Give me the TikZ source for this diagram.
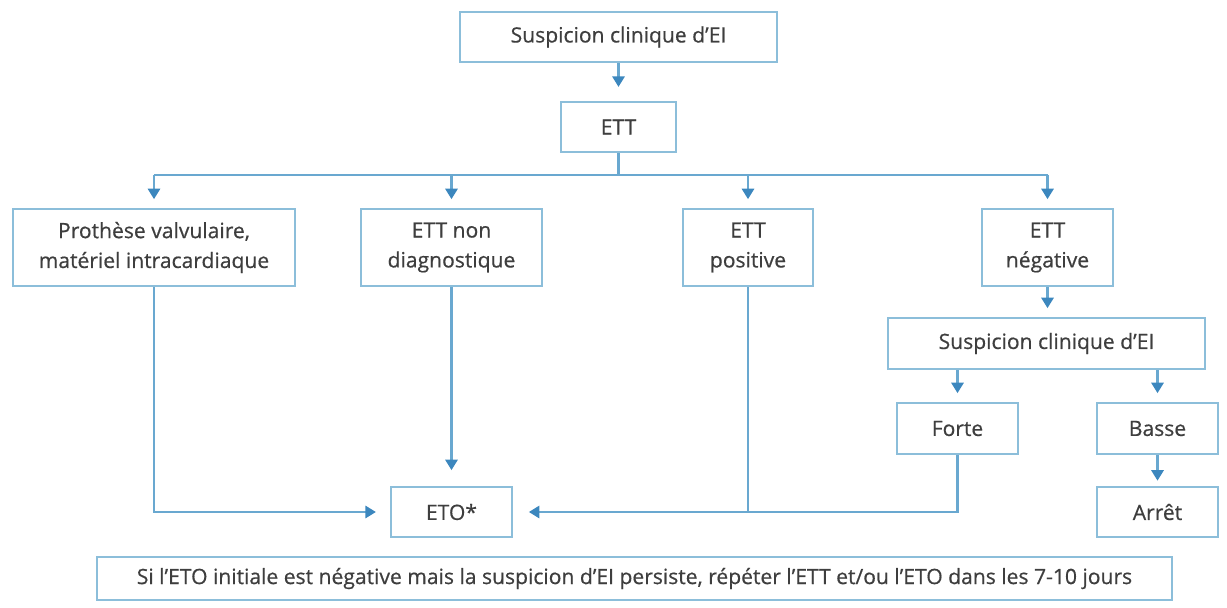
\documentclass[tikz,border=0pt]{standalone}
\usepackage{fontspec}
\setmainfont{Open Sans}[FakeBold=0.6]
\definecolor{BoxColor}{RGB}{140,190,218}
\definecolor{LineColor}{RGB}{105,168,208}
\definecolor{TipColor}{RGB}{60,135,190}
\definecolor{TextColor}{RGB}{62,62,62}
\usepackage{tikz}
\usetikzlibrary{arrows.meta, calc}
\tikzstyle{box} = [draw=BoxColor, line width=1.2pt, text=TextColor, align=center, inner sep=0pt, font=\fontsize{12}{17}\selectfont]
\tikzstyle{arrow} = [LineColor, line width=1.3pt, -{Triangle[length=6pt, width=7pt, color=TipColor]}, shorten >=5pt]
\tikzstyle{link} = [LineColor, line width=1.3pt]

\begin{document}
\begin{tikzpicture}
            \useasboundingbox (0,0) rectangle (24.54,-12.16);

            % First steps
            \node[box, minimum width=6.34cm, minimum height=1cm] (start) at (12.37,-0.74) {Suspicion clinique d’EI};
            \node[box, minimum width=2.3cm, minimum height=1cm] (ett) at (12.37,-2.54) {ETT};

            % ETT results
            \node[box, minimum width=5.64cm, minimum height=1.54cm] (prot) at (3.08,-4.95) {Prothèse valvulaire,\\matériel intracardiaque};
            \node[box, minimum width=3.62cm, minimum height=1.54cm] (nondiag) at (9.03,-4.95) {ETT non\\diagnostique};
            \node[box, minimum width=2.6cm, minimum height=1.54cm] (pos) at (14.96,-4.95) {ETT\\positive};
            \node[box, minimum width=2.62cm, minimum height=1.54cm] (neg) at (20.95,-4.95) {ETT\\négative};

            % Negative branch
            \node[box, minimum width=6.34cm, minimum height=1.02cm] (susp) at (20.93,-6.87) {Suspicion clinique d’EI};
            \node[box, minimum width=2.42cm, minimum height=1.02cm] (forte) at (19.15,-8.57) {Forte};
            \node[box, minimum width=2.42cm, minimum height=1.02cm] (basse) at (23.15,-8.57) {Basse};
            \node[box, minimum width=2.42cm, minimum height=1cm] (arret) at (23.15,-10.24) {Arrêt};

            % ETO and note
            \node[box, minimum width=2.42cm, minimum height=1cm] (eto) at (9.03,-10.24) {ETO*};
            \node[box, minimum width=21.5cm, minimum height=0.86cm] (note) at (12.69,-11.57) {Si l’ETO initiale est négative mais la suspicion d’EI persiste, répéter l’ETT et/ou l’ETO dans les 7-10 jours};

            % Connectors
            \coordinate (split) at (12.37,-3.5);
            \draw[arrow, shorten >=8pt] (start) -- (ett);
            \draw[link] (ett.south) -- (split);
            \draw[link] (prot.north |- split) -- (neg.north |- split);
            \foreach \n in {prot, nondiag, pos, neg}
                \draw[arrow] (\n.north |- split) -- (\n.north);

            \draw[arrow] (neg.south) -- (neg.south |- susp.north);
            \draw[arrow] (forte.north |- susp.south) -- (forte.north);
            \draw[arrow] (basse.north |- susp.south) -- (basse.north);
            \draw[arrow, shorten >=3pt] (basse) -- (arret);

            \draw[arrow, shorten >=8pt] (prot.south) |- (eto.west);
            \draw[arrow, shorten >=9pt] (nondiag) -- (eto);
            \draw[arrow, shorten >=9pt] (forte.south) |- (eto.east);
            \draw[link] (pos.south) -- (pos.south |- eto.east);
\end{tikzpicture}
\end{document}
